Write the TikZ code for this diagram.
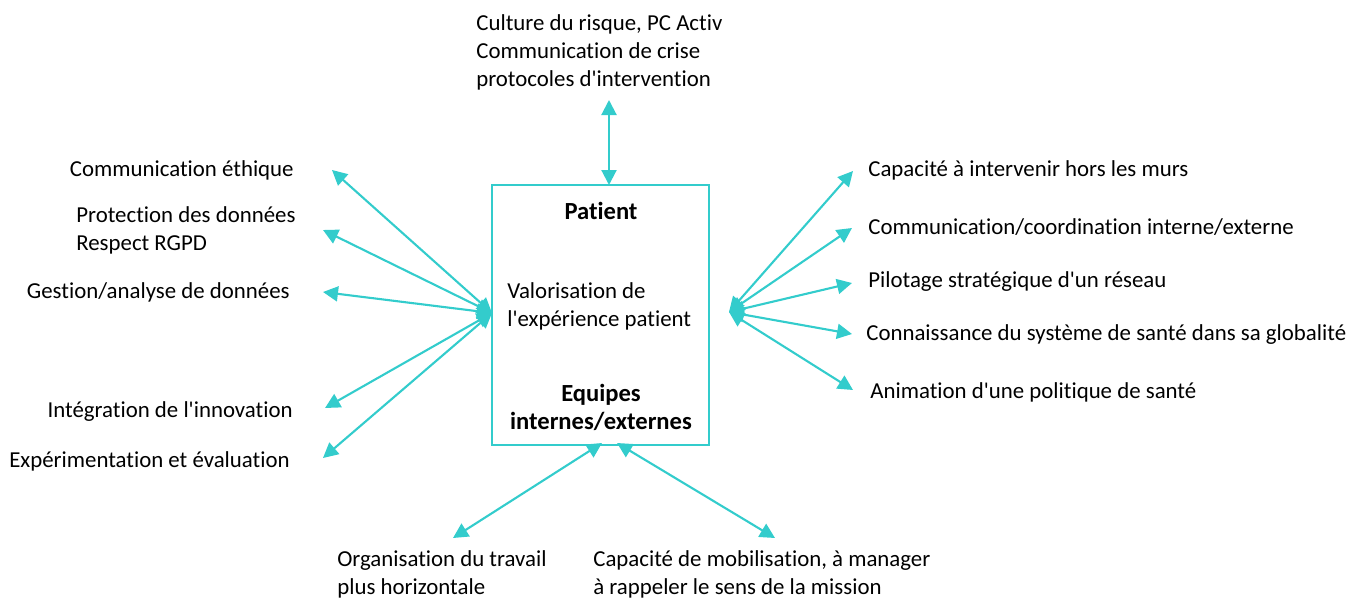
\documentclass[tikz,border=0pt]{standalone}
\usepackage{fontspec}
\setmainfont[Ligatures={NoCommon}]{Carlito}
\usetikzlibrary{arrows.meta, positioning}
\definecolor{turquesa}{HTML}{33CCCC}
\newcommand{\ap}{\textquotesingle}

\begin{document}
\begin{tikzpicture}[
  x=0.02cm, y=-0.02cm,
  font=\fontsize{13}{15.9}\selectfont,
  caja/.style={rectangle, draw=turquesa, line width=1.1pt, minimum width=4.34cm, minimum height=5.2cm},
  lbl/.style={inner sep=0pt, align=left},
  titre/.style={inner sep=0pt, align=center, font=\fontsize{14}{15.9}\selectfont\bfseries},
  flecha/.style={{Triangle[length=3mm, width=3mm]}-{Triangle[length=3mm, width=3mm]}, line width=1.2pt, turquesa},
]
\useasboundingbox (0,0) rectangle (1350,599);

% --- Caja central ---
\node[caja] (centro) at (600.5,315) {};
\node[titre] (patient) at (601,211) {Patient};
\node[lbl, anchor=west] (valor) at (507,306) {Valorisation de\\l\ap expérience patient};
\node[titre] (equipes) at (601,407) {Equipes\\internes/externes};

% --- Points de convergence ---
\coordinate (hubG) at (492,313);
\coordinate (hubD) at (729,312);
\coordinate (hubH) at (609,185);
\coordinate (hubB1) at (602,443);
\coordinate (hubB2) at (617,443);

% --- Etiquettes gauche ---
\node[lbl, anchor=east] (ethique) at (294,170) {Communication éthique};
\node[lbl, anchor=west] (donnees) at (76,230) {Protection des données\\Respect RGPD};
\node[lbl, anchor=east] (gestion) at (290,292) {Gestion/analyse de données};
\node[lbl, anchor=east] (innov) at (293,412) {Intégration de l\ap innovation};
\node[lbl, anchor=east] (experim) at (290,461) {Expérimentation et évaluation};

% --- Etiquettes droite ---
\node[lbl, anchor=west] (horsmurs) at (868,170) {Capacité à intervenir hors les murs};
\node[lbl, anchor=west] (coord) at (868,227) {Communication/coordination interne/externe};
\node[lbl, anchor=west] (pilotage) at (868,282) {Pilotage stratégique d\ap un réseau};
\node[lbl, anchor=west] (systeme) at (866,335) {Connaissance du système de santé dans sa globalité};
\node[lbl, anchor=west] (animation) at (870,392) {Animation d\ap une politique de santé};

% --- Etiquettes haut / bas ---
\node[lbl, anchor=north west] (risque) at (476,14) {Culture du risque, PC Activ\\Communication de crise\\protocoles d\ap intervention};
\node[lbl, anchor=north west] (orga) at (337,550) {Organisation du travail\\plus horizontale};
\node[lbl, anchor=north west] (mobil) at (593,550) {Capacité de mobilisation, à manager\\à rappeler le sens de la mission};

% --- Extremites des fleches ---
\coordinate (eG1) at (332,170);
\coordinate (eG2) at (323,230);
\coordinate (eG3) at (323,292);
\coordinate (eG4) at (325,408);
\coordinate (eG5) at (323,458);
\coordinate (eD1) at (853,171);
\coordinate (eD2) at (852,228);
\coordinate (eD3) at (852,283);
\coordinate (eD4) at (852,334);
\coordinate (eD5) at (853,390);
\coordinate (eH) at (609,100);
\coordinate (eB1) at (453,538);
\coordinate (eB2) at (775,538);

% --- Fleches ---
\foreach \e in {eG1,eG2,eG3,eG4,eG5}
  \draw[flecha] (hubG) -- (\e);
\foreach \e in {eD1,eD2,eD3,eD4,eD5}
  \draw[flecha] (hubD) -- (\e);
\draw[flecha] (hubH) -- (eH);
\draw[flecha] (hubB1) -- (eB1);
\draw[flecha] (hubB2) -- (eB2);

\end{tikzpicture}
\end{document}
